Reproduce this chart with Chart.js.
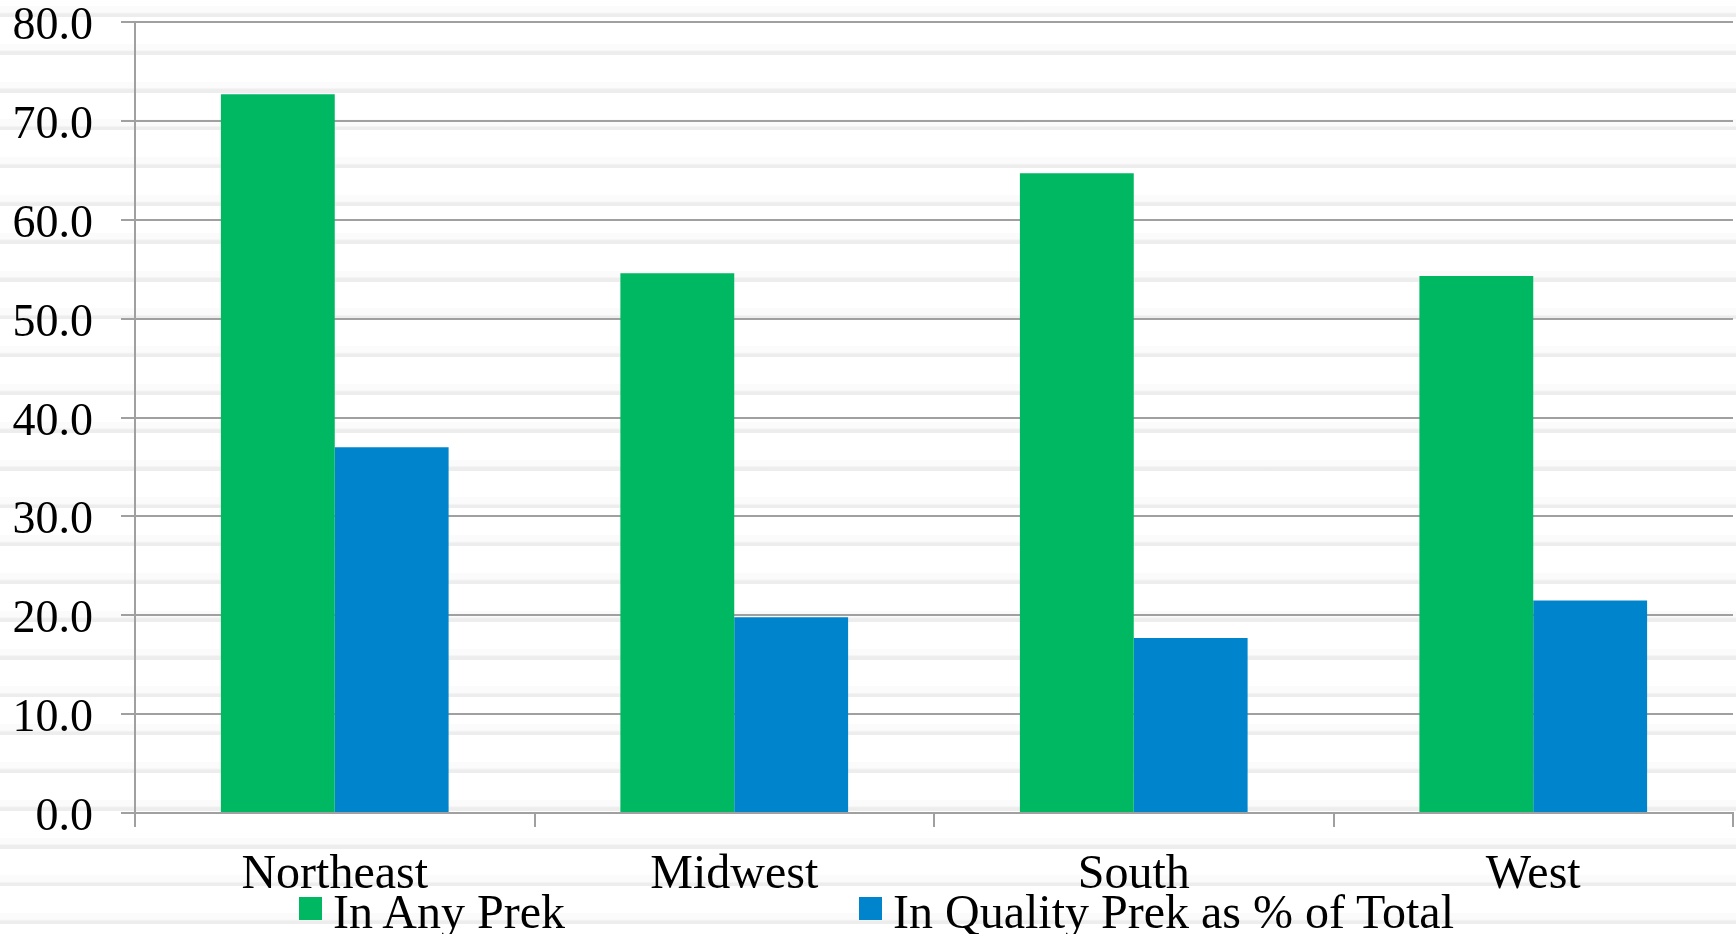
<!DOCTYPE html>
<html>
<head>
<meta charset="utf-8">
<title>Prek enrollment by region</title>
<script src="https://cdn.jsdelivr.net/npm/chart.js@4.4.1/dist/chart.umd.min.js"></script>
<style>
    html, body { margin: 0; padding: 0; }
    body {
        width: 1736px;
        height: 934px;
        overflow: hidden;
        position: relative;
        font-family: 'Liberation Serif', 'Times New Roman', serif;
        /* faint scan stripes seen in the original image */
        background: #fff repeating-linear-gradient(to bottom,
            #fff 0px, #fff 6px, #fbfbfb 6px, #fbfbfb 12px,
            #ededed 14px, #ededed 17px, #fff 17px, #fff 37.8px);
    }
    #chart { position: absolute; left: 0; top: 0; }
    .legend-item {
        position: absolute;
        top: 888px;
        height: 48px;
        font-size: 48px;
        line-height: 48px;
        white-space: nowrap;
        color: #000;
    }
    .legend-item .sw { position: absolute; left: 0; top: 9px; width: 23px; height: 23px; }
    .legend-item .txt { position: absolute; left: 34px; top: 0; }
</style>
</head>
<body>
<canvas id="chart" width="1736" height="934"></canvas>
<div id="legend"></div>

<script>
// Data
const regions = ['Northeast', 'Midwest', 'South', 'West'];
const anyPrek = [72.7, 54.6, 64.7, 54.3];
const qualityPrek = [37.0, 19.8, 17.7, 21.5];
const seriesNames = ['In Any Prek', 'In Quality Prek as % of Total'];
const seriesColors = ['#00b862', '#0085cd'];
const yMin = 0;
const yMax = 80;
const yStep = 10;

const axisGray = '#a0a0a0';
const fontFamily = "'Liberation Serif', 'Times New Roman', serif";

document.addEventListener('DOMContentLoaded', function() {
    buildLegend();
    createChart();
});

function buildLegend() {
    const legend = document.getElementById('legend');
    const lefts = [299, 859];
    seriesNames.forEach(function(name, i) {
        const item = document.createElement('div');
        item.className = 'legend-item';
        item.style.left = lefts[i] + 'px';
        item.innerHTML = '<span class="sw" style="background:' + seriesColors[i] + '"></span>' +
            '<span class="txt">' + name.replace('%', '&#37;') + '</span>';
        legend.appendChild(item);
    });
}

function createChart() {
    const ctx = document.getElementById('chart');

    new Chart(ctx, {
        type: 'bar',
        data: {
            labels: regions,
            datasets: [
                {
                    label: seriesNames[0],
                    data: anyPrek,
                    backgroundColor: seriesColors[0],
                    borderWidth: 0
                },
                {
                    label: seriesNames[1],
                    data: qualityPrek,
                    backgroundColor: seriesColors[1],
                    borderWidth: 0
                }
            ]
        },
        options: {
            responsive: false,
            animation: false,
            devicePixelRatio: 1,
            datasets: {
                bar: { categoryPercentage: 0.57, barPercentage: 1.0 }
            },
            layout: {
                padding: { top: 0, right: 3, left: 0, bottom: 0 }
            },
            plugins: {
                legend: { display: false },
                tooltip: { enabled: false }
            },
            scales: {
                x: {
                    grid: {
                        offset: true,
                        drawOnChartArea: false,
                        drawTicks: true,
                        tickLength: 14,
                        color: axisGray,
                        lineWidth: 2
                    },
                    border: { color: axisGray, width: 2 },
                    ticks: {
                        color: '#000',
                        padding: 20,
                        font: { family: fontFamily, size: 48 }
                    },
                    afterFit: function(scale) { scale.height = 121; }
                },
                y: {
                    min: yMin,
                    max: yMax,
                    grid: {
                        color: axisGray,
                        lineWidth: 2,
                        tickLength: 14
                    },
                    border: { color: axisGray, width: 2 },
                    ticks: {
                        stepSize: yStep,
                        color: '#000',
                        padding: 28,
                        labelOffset: 5,
                        font: { family: fontFamily, size: 46, lineHeight: 0.96 },
                        callback: function(value) { return Number(value).toFixed(1); }
                    },
                    afterFit: function(scale) {
                        // fixed gutter: axis line at x=135, top gridline at y=22
                        scale.width = 135;
                        scale.paddingTop = 22;
                        scale.paddingBottom = 0;
                    }
                }
            }
        }
    });
}
</script>
</body>
</html>
